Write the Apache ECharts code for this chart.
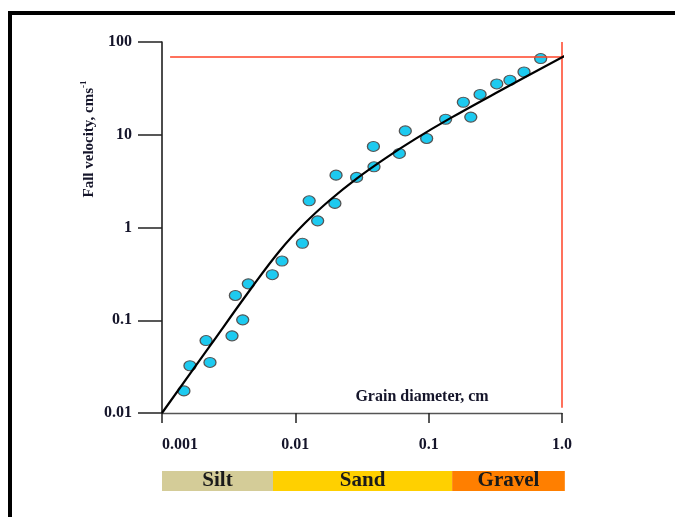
<!DOCTYPE html>
<html>
<head>
<meta charset="utf-8">
<script src="https://cdn.jsdelivr.net/npm/echarts@6/dist/echarts.min.js"></script>
<style>
html, body { margin: 0; padding: 0; background: #fff; }
#chart { width: 675px; height: 517px; }
</style>
</head>
<body>
<div id="chart"></div>
<script>
// measured points: grain diameter (cm) / fall velocity (cm/s)
const grainDiameter = [0.00146, 0.00162, 0.00229, 0.00214, 0.00335, 0.00403, 0.00355, 0.00444, 0.00672, 0.00794,
  0.0113, 0.0147, 0.0127, 0.0198, 0.0202, 0.0288, 0.0389, 0.0385, 0.0603, 0.0668,
  0.0966, 0.134, 0.182, 0.207, 0.243, 0.324, 0.407, 0.519, 0.692]
const fallVelocity = [0.0173, 0.0323, 0.0351, 0.0604, 0.0679, 0.101, 0.185, 0.247, 0.31, 0.435,
  0.676, 1.18, 1.94, 1.82, 3.67, 3.47, 4.51, 7.48, 6.29, 11.0,
  9.12, 14.7, 22.4, 15.5, 27.2, 35.3, 38.7, 47.5, 66.3]

// fitted curve
const curveDiameter = [0.001, 0.00229, 0.00457, 0.00767, 0.01182, 0.0182, 0.029, 0.047, 0.079, 0.1445, 0.343, 1.11]
const curveVelocity = [0.01, 0.0529, 0.212, 0.565, 1.117, 1.98, 3.39, 5.54, 8.97, 15.0, 29.8, 74.1]

// red reference lines
const refHorizDiameter = [0.00115, 1.39]
const refHorizVelocity = 68.9
const refVertDiameter = 1.0
const refVertVelocity = [0.0114, 100]

// tick labels
const xTickValues = [0.001, 0.01, 0.1, 1]
const xTickLabels = ['0.001', '0.01', '0.1', '1.0']
const yTickValues = [0.01, 0.1, 1, 10, 100]
const yTickLabels = ['0.01', '0.1', '1', '10', '100']

// grain size classes
const classNames = ['Silt', 'Sand', 'Gravel']
const classStart = [0.001, 0.0068, 0.15]
const classEnd = [0.0068, 0.15, 1.05]

const classColors = ['#d4cc98', '#ffd000', '#ff7f00']
const serif = '"Liberation Serif", "DejaVu Serif", serif'
const labelColor = '#15152a'

// pick the label for a tick value
const tickLabel = (values, labels) => (v) => {
  let best = 0
  values.forEach((t, i) => {
    if (Math.abs(Math.log10(t) - Math.log10(v)) < Math.abs(Math.log10(values[best]) - Math.log10(v))) best = i
  })
  return labels[best]
}

const chart = echarts.init(document.getElementById('chart'))

const options = {
  animation: false,
  grid: [
    { left: 162, right: 113, top: 42, bottom: 104 },
    { left: 162, right: 113, top: 471, height: 20 }
  ],
  xAxis: [
    {
      type: 'log',
      logBase: 10,
      min: 0.001,
      max: 1,
      gridIndex: 0,
      axisLine: { show: true, lineStyle: { color: '#555', width: 1.3 } },
      axisTick: { show: true, inside: false, length: 10, lineStyle: { color: '#222', width: 1.5 } },
      minorTick: { show: false },
      splitLine: { show: false },
      axisLabel: {
        margin: 24,
        fontFamily: serif,
        fontWeight: 'bold',
        fontSize: 16,
        color: labelColor,
        alignMinLabel: 'left',
        formatter: tickLabel(xTickValues, xTickLabels)
      }
    },
    {
      type: 'log',
      min: 0.001,
      max: 1,
      gridIndex: 1,
      show: false
    }
  ],
  yAxis: [
    {
      type: 'log',
      logBase: 10,
      min: 0.01,
      max: 100,
      gridIndex: 0,
      axisLine: { show: true, lineStyle: { color: '#111', width: 1.5 } },
      axisTick: { show: true, inside: false, length: 24, lineStyle: { color: '#222', width: 1.5 } },
      minorTick: { show: false },
      splitLine: { show: false },
      axisLabel: {
        margin: 30,
        fontFamily: serif,
        fontWeight: 'bold',
        fontSize: 16,
        color: labelColor,
        formatter: tickLabel(yTickValues, yTickLabels)
      }
    },
    {
      type: 'value',
      min: 0,
      max: 1,
      gridIndex: 1,
      show: false
    }
  ],
  series: [
    // 红色参考线
    {
      type: 'line',
      clip: false,
      symbol: 'none',
      silent: true,
      lineStyle: { color: '#ff4226', width: 1.5 },
      data: refHorizDiameter.map((d) => [d, refHorizVelocity])
    },
    {
      type: 'line',
      clip: false,
      symbol: 'none',
      silent: true,
      lineStyle: { color: '#ff4226', width: 1.5 },
      data: refVertVelocity.map((v) => [refVertDiameter, v])
    },
    // fitted curve
    {
      type: 'line',
      clip: false,
      symbol: 'none',
      smooth: 0.4,
      lineStyle: { color: '#000', width: 2.2 },
      data: curveDiameter.map((d, i) => [d, curveVelocity[i]])
    },
    // measured points
    {
      type: 'scatter',
      symbol: 'circle',
      symbolSize: [12, 10],
      itemStyle: { color: '#1dcaf0', borderColor: '#555', borderWidth: 1.2, opacity: 1 },
      data: grainDiameter.map((d, i) => [d, fallVelocity[i]])
    },
    // silt / sand / gravel bar
    {
      type: 'custom',
      xAxisIndex: 1,
      yAxisIndex: 1,
      clip: false,
      encode: { x: [0, 1] },
      data: classStart.map((s, i) => [s, classEnd[i]]),
      renderItem: (params, api) => {
        const i = params.dataIndex
        const p0 = api.coord([api.value(0), 1])
        const p1 = api.coord([api.value(1), 0])
        return {
          type: 'rect',
          shape: { x: p0[0], y: p0[1], width: p1[0] - p0[0], height: p1[1] - p0[1] },
          style: { fill: classColors[i] },
          textContent: {
            style: { text: classNames[i], font: 'bold 21px ' + serif, fill: '#1a1a1a' }
          },
          textConfig: { position: 'inside' }
        }
      }
    }
  ],
  graphic: [
    // outer frame (only left and top edges are in view)
    {
      type: 'rect',
      shape: { x: 10, y: 13, width: 800, height: 700 },
      style: { fill: null, stroke: '#000', lineWidth: 4 },
      silent: true
    },
    {
      type: 'text',
      x: 422,
      y: 397,
      style: {
        text: 'Grain diameter, cm',
        font: 'bold 16px ' + serif,
        fill: labelColor,
        align: 'center',
        verticalAlign: 'middle'
      }
    },
    {
      type: 'text',
      x: 88,
      y: 139,
      rotation: Math.PI / 2,
      style: {
        text: '{a|Fall velocity, cms}{b|-1}',
        align: 'center',
        verticalAlign: 'middle',
        fill: labelColor,
        rich: {
          a: { font: 'bold 15px ' + serif, fill: labelColor, lineHeight: 18, verticalAlign: 'bottom' },
          b: { font: 'bold 9px ' + serif, fill: labelColor, lineHeight: 18, verticalAlign: 'top' }
        }
      }
    }
  ]
}

chart.setOption(options)
</script>
</body>
</html>
